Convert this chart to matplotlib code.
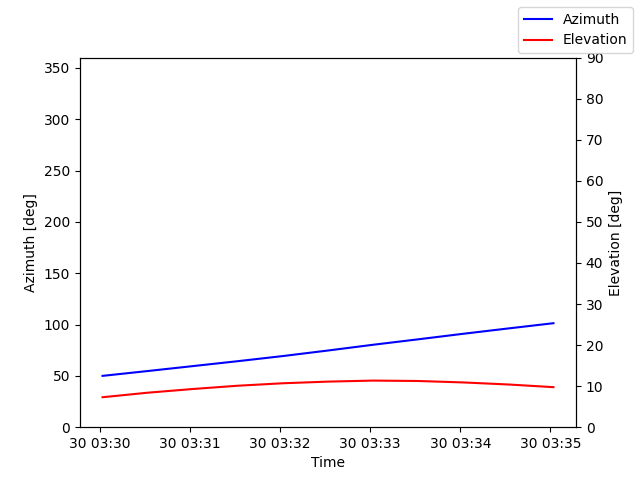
import datetime as dt
from matplotlib import pyplot as plt
import matplotlib
matplotlib.use("Agg")

# samples every 30 s
inicio = dt.datetime(2024, 1, 30, 3, 30, 2)
tiempos = [inicio + dt.timedelta(seconds=30 * i) for i in range(11)]
azimut = [50.0, 54.7, 59.5, 64.3, 69.3, 74.7, 80.3, 85.6, 91.0, 96.2, 101.3]
elevacion = [7.3, 8.4, 9.3, 10.1, 10.7, 11.1, 11.35, 11.25, 10.9, 10.4, 9.75]

fig, ax1 = plt.subplots(figsize=(6.4, 4.8), dpi=100)
ax2 = ax1.twinx()

ax1.plot(tiempos, azimut, color="blue", label="Azimuth")
ax2.plot(tiempos, elevacion, color="red", label="Elevation")

ax1.set_ylim(0, 360)
ax2.set_ylim(0, 90)
ax1.set_xlabel("Time")
ax1.set_ylabel("Azimuth [deg]")
ax2.set_ylabel("Elevation [deg]")

fig.legend()
fig.savefig("out.png")
